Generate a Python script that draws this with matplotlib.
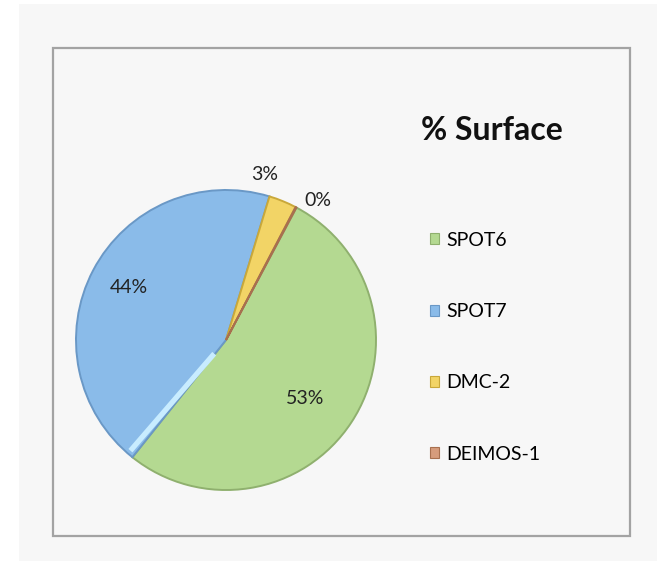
import numpy as np
import matplotlib.pyplot as plt
from matplotlib.patches import Rectangle, Patch

plt.rcParams['font.family'] = ['Lato', 'DejaVu Sans']

satellites = ['SPOT6', 'SPOT7', 'DMC-2', 'DEIMOS-1']
surface = [53, 44, 3, 0.1]
pct_labels = ['53%', '44%', '3%', '0%']
colors = ['#b4d991', '#8abbe9', '#f2d466', '#d69c7c']
edges = ['#8fb06e', '#6a98c6', '#c9a83a', '#a8704f']

# label positions in pie units (x, y)
label_pos = [(0.53, -0.39), (-0.65, 0.35), (0.26, 1.10), (0.61, 0.93)]

fig = plt.figure(figsize=(6.57, 5.61), dpi=100, facecolor='white')

# grey backdrop and inner frame
fig.patches.append(Rectangle((19 / 657, 0), 1, 1 - 4 / 561, transform=fig.transFigure,
                             facecolor='#f7f7f7', edgecolor='none', zorder=-3))
fig.patches.append(Rectangle((53 / 657, 1 - 536 / 561), (630 - 53) / 657, (536 - 48) / 561,
                             transform=fig.transFigure, facecolor='#f7f7f7',
                             edgecolor='#a3a3a3', linewidth=1.6, zorder=-2))

ax = fig.add_axes([76 / 657, 71 / 561, 300 / 657, 300 / 561])
ax.set_facecolor('none')
wedges, _ = ax.pie(surface, colors=colors, startangle=62, counterclock=False,
                   radius=1.0, wedgeprops=dict(linewidth=1.4))
for w, ec in zip(wedges, edges):
    w.set_edgecolor(ec)

# light bevel on the SPOT7 side of the SPOT6/SPOT7 border
a = np.deg2rad(wedges[1].theta2 - 2.2)
ax.plot([0.12 * np.cos(a), 0.975 * np.cos(a)], [0.12 * np.sin(a), 0.975 * np.sin(a)],
        color='#c8ecff', lw=3.8, solid_capstyle='butt')

for (x, y), t in zip(label_pos, pct_labels):
    ax.text(x, y, t, ha='center', va='center', fontsize=14, color='#222222')

ax.set_xlim(-1.0, 1.0)
ax.set_ylim(-1.0, 1.0)
ax.set_aspect('equal')
ax.axis('off')

fig.text(492 / 657, 1 - 130 / 561, '% Surface', ha='center', va='center',
         fontsize=23, fontweight='bold', color='#111111')

handles = [Patch(facecolor=c, edgecolor=e, linewidth=0.8) for c, e in zip(colors, edges)]
fig.legend(handles, satellites, loc='upper left', bbox_to_anchor=(412 / 657, 1 - 214 / 561),
           frameon=False, fontsize=14, handlelength=0.5, handleheight=0.5,
           handletextpad=0.35, labelspacing=2.8)

fig.savefig('out.png', dpi=100, facecolor=fig.get_facecolor())
